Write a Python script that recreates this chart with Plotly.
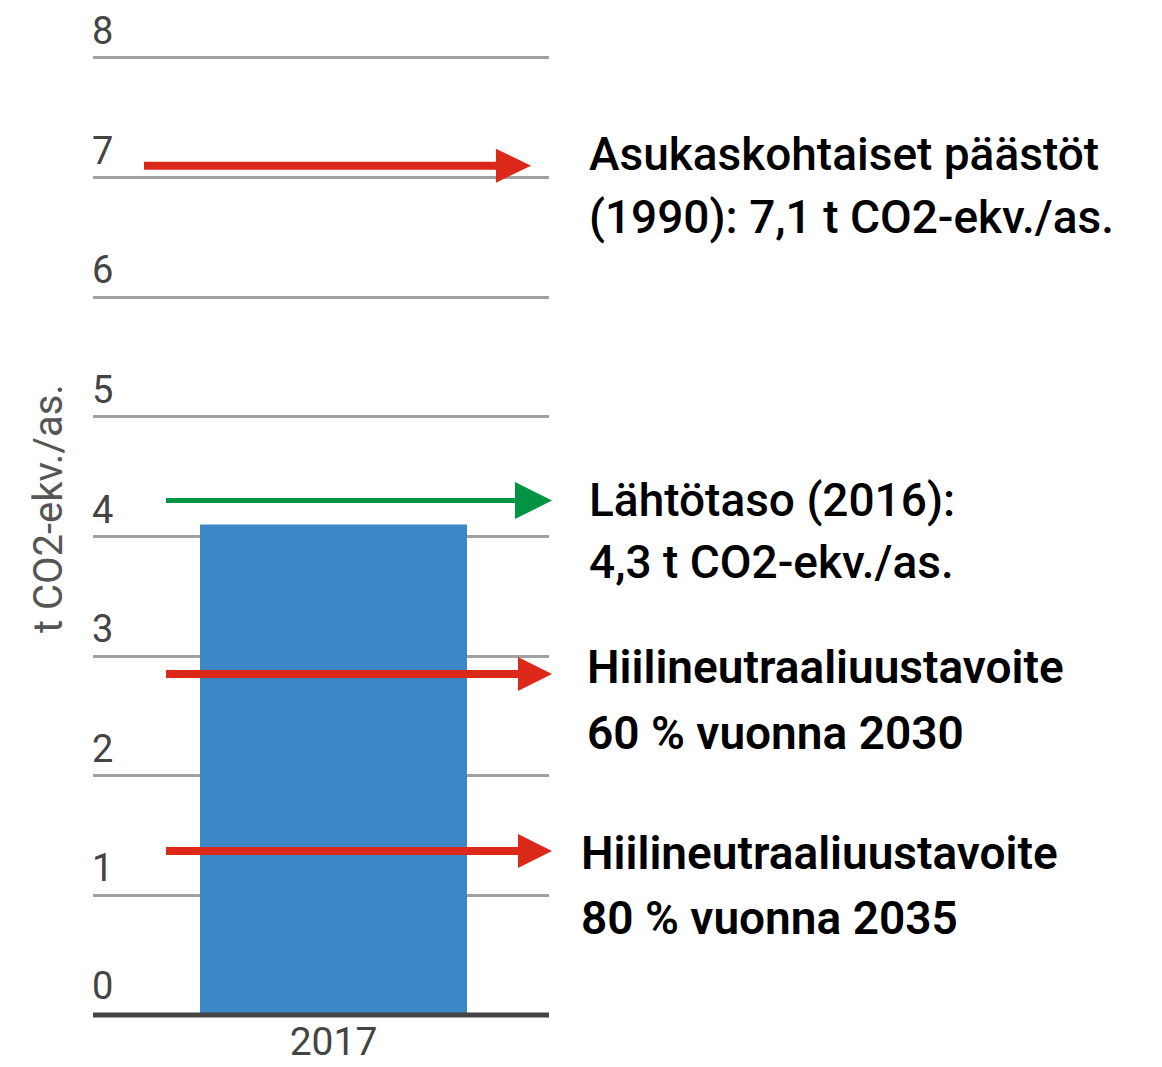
import plotly.graph_objects as go

# ---- data ----
categories = ["2017"]
values = [4.1]

y_ticks = [0, 1, 2, 3, 4, 5, 6, 7, 8]

ref_values = [7.1, 4.3, 2.85, 1.37]
ref_colors = ["#DC2818", "#009444", "#DC2818", "#DC2818"]

note_lines = [
    ["Asukaskohtaiset päästöt", "(1990): 7,1 t CO2-ekv./as."],
    ["Lähtötaso (2016):", "4,3 t CO2-ekv./as."],
    ["Hiilineutraaliuustavoite", "60 % vuonna 2030"],
    ["Hiilineutraaliuustavoite", "80 % vuonna 2035"],
]
y_title = "t CO2-ekv./as."

# ---- layout geometry (reference pixels) ----
OFF = 8                      # browser body margin
W, H = 1162 - OFF, 1067 - OFF
L, R, B = 93, 549, 1015
Y_MAX = 8.025
unit_px = (B - 58) / 8.0
T = B - unit_px * Y_MAX
PW, PH = R - L, B - T


def px_x(px):
    return (px - L) / PW


def px_y(py):
    return (B - py) / PH


FONT = "Roboto"

fig = go.Figure()
bar_w = 267 / PW
fig.add_trace(go.Bar(
    x=categories, y=values,
    marker=dict(color="#3D87C6", line=dict(width=0)),
    width=bar_w,
    hoverinfo="skip",
))
x_lo = -(333.5 - L) / PW

shapes = []
annotations = []

# baseline
shapes.append(dict(type="line", xref="paper", yref="paper", x0=0, x1=1, y0=0, y1=0,
                   line=dict(color="#444444", width=5), layer="above"))

# arrows: (start_px, base_px, tip_px, shaft_width, head_half_px)
arrow_geom = [
    (144, 496, 531, 8, 17),
    (166, 515, 552, 5, 18.5),
    (166, 518, 552, 8, 17),
    (166, 518, 552, 8, 17),
]
for v, c, (s, b, t, w, hh) in zip(ref_values, ref_colors, arrow_geom):
    shapes.append(dict(type="line", xref="paper", yref="y",
                       x0=px_x(s), x1=px_x(b + 2), y0=v, y1=v,
                       line=dict(color=c, width=w), layer="above"))
    h = hh / unit_px
    path = f"M {px_x(b)},{v + h} L {px_x(t)},{v} L {px_x(b)},{v - h} Z"
    shapes.append(dict(type="path", xref="paper", yref="y", path=path,
                       fillcolor=c, line=dict(width=0), layer="above"))

# y tick labels above gridlines
for tv in y_ticks:
    annotations.append(dict(
        x=0, xref="paper", y=tv, yref="y", text=str(tv), showarrow=False,
        xanchor="left", yanchor="middle", xshift=-3, yshift=27 if tv else 29,
        font=dict(family=FONT, size=38, color="#444444"),
    ))

# y axis title
annotations.append(dict(
    x=px_x(49), xref="paper", y=px_y(509), yref="paper", text=y_title,
    textangle=-90, showarrow=False, xanchor="center", yanchor="middle",
    font=dict(family=FONT, size=40, color="#555555"),
))

# right side notes
note_pos = [
    (590, 154, 217),
    (590, 500, 562),
    (588, 667, 733),
    (582, 853, 918),
]
note_weights = [
    (500, 500),
    (500, 500),
    (600, 600),
    (600, 600),
]
for lines, (xp, y1, y2), (w1, w2) in zip(note_lines, note_pos, note_weights):
    for txt, yy, ww in ((lines[0], y1, w1), (lines[1], y2, w2)):
        annotations.append(dict(
            x=px_x(xp), xref="paper", y=px_y(yy), yref="paper", text=txt,
            showarrow=False, xanchor="left", yanchor="middle", xshift=-3,
            font=dict(family=FONT, size=46, color="#000000", weight=ww),
        ))

fig.update_layout(
    width=W, height=H,
    margin=dict(l=L - OFF, r=W - (R - OFF), t=T - OFF, b=H - (B - OFF), pad=0),
    plot_bgcolor="white", paper_bgcolor="white",
    showlegend=False,
    xaxis=dict(
        range=[x_lo, x_lo + 1], automargin=False,
        showgrid=False, showline=False, zeroline=False, ticks="",
        tickfont=dict(family=FONT, size=39, color="#444444"),
        ticklabelstandoff=0,
    ),
    yaxis=dict(
        range=[0, Y_MAX], tickvals=y_ticks, showticklabels=False, automargin=False,
        showgrid=True, gridcolor="#A0A0A0", gridwidth=3,
        zeroline=False, showline=False, ticks="", fixedrange=True,
    ),
    shapes=shapes,
    annotations=annotations,
)

fig.write_html("out.html")
